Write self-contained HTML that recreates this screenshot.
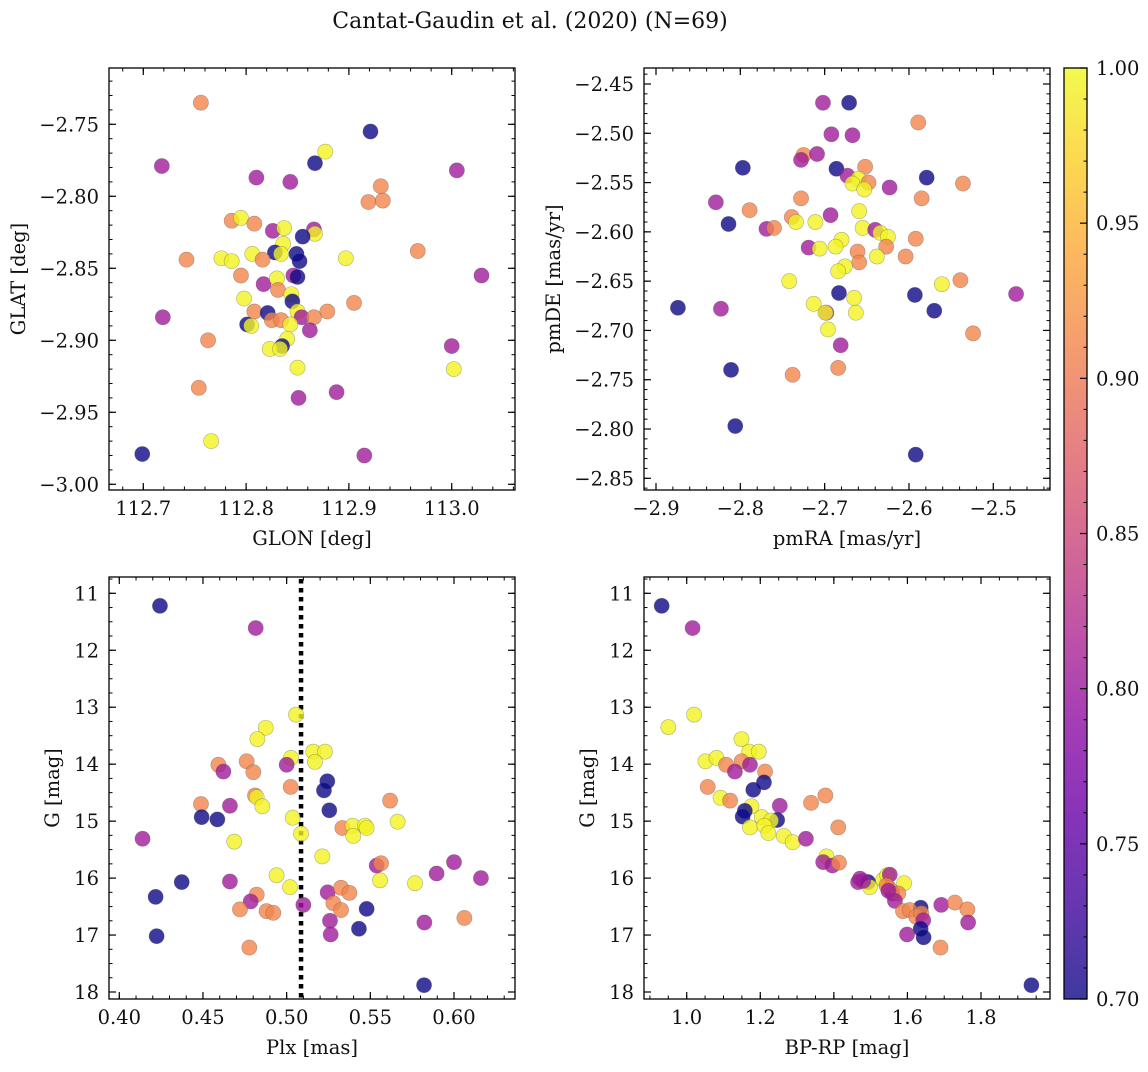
<!DOCTYPE html>
<html><head><meta charset="utf-8">
<style>
html,body{margin:0;padding:0;background:#fff;}
svg text{font-family:"DejaVu Serif","Liberation Serif",serif;fill:#111;}
</style></head>
<body>
<svg id="fig" width="1148" height="1067" viewBox="0 0 1148 1067" xmlns="http://www.w3.org/2000/svg">
<defs>
<linearGradient id="cbgrad" x1="0" y1="1" x2="0" y2="0">
<stop offset="0" stop-color="#0d0887"/><stop offset="0.1" stop-color="#41049d"/><stop offset="0.2" stop-color="#6a00a8"/><stop offset="0.3" stop-color="#8f0da4"/><stop offset="0.4" stop-color="#b12a90"/><stop offset="0.5" stop-color="#cc4778"/><stop offset="0.6" stop-color="#e16462"/><stop offset="0.7" stop-color="#f2844b"/><stop offset="0.8" stop-color="#fca636"/><stop offset="0.9" stop-color="#fcce25"/><stop offset="1" stop-color="#f0f921"/>
</linearGradient>
</defs>
<text x="530" y="28" font-size="22" text-anchor="middle">Cantat-Gaudin et al. (2020) (N=69)</text>
<g id="plots"></g>
<g id="colorbar">
<rect x="1064" y="68" width="23" height="931" fill="url(#cbgrad)" opacity="0.8"/>
<rect x="1064" y="68" width="23" height="931" fill="none" stroke="#000" stroke-width="1.3"/>
</g>
</svg>
<script>
const B=0.70,P=0.805,O=0.91,Y=0.995;
// Panel 1: GLON / GLAT
const glon=[112.756,112.921,112.877,112.867,112.718,112.810,112.843,113.005,112.931,112.919,112.933,112.786,112.795,112.808,112.826,112.837,112.866,112.867,112.855,112.836,112.828,112.834,112.849,112.852,112.806,112.816,112.742,112.776,112.786,112.897,112.967,112.795,112.846,112.850,113.029,112.817,112.830,112.831,112.798,112.844,112.845,112.905,112.808,112.821,112.850,112.854,112.879,112.825,112.834,112.866,112.801,112.805,112.843,112.719,112.862,112.840,112.835,112.823,112.833,112.763,113.000,113.002,112.850,112.754,112.851,112.888,112.766,112.699,112.915];
const glat=[-2.735,-2.755,-2.769,-2.777,-2.779,-2.787,-2.790,-2.782,-2.793,-2.804,-2.803,-2.817,-2.815,-2.819,-2.824,-2.822,-2.823,-2.826,-2.828,-2.833,-2.839,-2.840,-2.840,-2.845,-2.840,-2.844,-2.844,-2.843,-2.845,-2.843,-2.838,-2.855,-2.855,-2.856,-2.855,-2.861,-2.857,-2.865,-2.871,-2.868,-2.873,-2.874,-2.880,-2.881,-2.880,-2.884,-2.880,-2.886,-2.886,-2.884,-2.889,-2.890,-2.889,-2.884,-2.893,-2.899,-2.904,-2.906,-2.906,-2.900,-2.904,-2.920,-2.919,-2.933,-2.940,-2.936,-2.970,-2.979,-2.980];
const prob1=[O,B,Y,B,P,P,P,P,O,O,O,O,Y,O,P,Y,P,Y,B,Y,B,Y,B,B,Y,O,O,Y,Y,Y,O,O,P,B,P,P,Y,O,Y,Y,B,O,O,B,Y,P,O,O,O,O,B,Y,Y,P,P,Y,B,Y,Y,O,P,Y,Y,O,P,P,Y,B,P];
// Panel 2: pmRA / pmDE
const pmra=[-2.702,-2.671,-2.589,-2.692,-2.667,-2.725,-2.728,-2.709,-2.797,-2.686,-2.652,-2.673,-2.660,-2.648,-2.667,-2.653,-2.623,-2.579,-2.536,-2.585,-2.728,-2.829,-2.789,-2.814,-2.693,-2.659,-2.739,-2.734,-2.711,-2.769,-2.760,-2.655,-2.640,-2.634,-2.625,-2.627,-2.592,-2.680,-2.687,-2.719,-2.706,-2.661,-2.659,-2.638,-2.604,-2.676,-2.684,-2.742,-2.561,-2.539,-2.683,-2.593,-2.473,-2.874,-2.823,-2.665,-2.570,-2.713,-2.698,-2.699,-2.663,-2.696,-2.524,-2.681,-2.684,-2.738,-2.811,-2.806,-2.592];
const pmde=[-2.469,-2.469,-2.489,-2.501,-2.502,-2.522,-2.527,-2.521,-2.535,-2.536,-2.534,-2.543,-2.546,-2.550,-2.551,-2.557,-2.555,-2.545,-2.551,-2.566,-2.566,-2.570,-2.578,-2.592,-2.583,-2.579,-2.585,-2.590,-2.590,-2.597,-2.596,-2.596,-2.598,-2.601,-2.605,-2.615,-2.607,-2.608,-2.615,-2.616,-2.617,-2.620,-2.631,-2.625,-2.625,-2.635,-2.640,-2.650,-2.653,-2.649,-2.662,-2.664,-2.663,-2.677,-2.678,-2.667,-2.680,-2.673,-2.682,-2.682,-2.682,-2.699,-2.703,-2.715,-2.738,-2.745,-2.740,-2.797,-2.826];
const prob2=[P,B,O,P,P,O,P,P,B,B,O,P,Y,O,Y,Y,P,B,O,O,O,P,O,B,P,Y,O,Y,Y,P,O,Y,P,Y,Y,O,O,Y,Y,P,Y,O,O,Y,O,Y,Y,Y,Y,O,B,B,P,B,P,Y,B,Y,P,Y,Y,Y,O,P,O,O,B,B,B];
// Panel 3: Plx / G
const plx=[0.4243,0.4815,0.5056,0.4875,0.4825,0.5159,0.5229,0.5169,0.5026,0.5000,0.4592,0.4622,0.4761,0.4801,0.5024,0.5243,0.5223,0.4811,0.4821,0.4855,0.4488,0.4661,0.5618,0.5255,0.4492,0.4586,0.5036,0.5663,0.5333,0.5394,0.5468,0.5478,0.5398,0.5086,0.4139,0.4687,0.5213,0.5538,0.5564,0.6000,0.5896,0.4940,0.5558,0.5767,0.6161,0.4373,0.4661,0.5020,0.4217,0.4821,0.4785,0.5245,0.5325,0.5375,0.5279,0.5100,0.5325,0.4721,0.4880,0.4920,0.5478,0.5259,0.5823,0.6062,0.5432,0.5263,0.4223,0.4777,0.5821];
const gmag3=[11.22,11.61,13.13,13.36,13.56,13.78,13.78,13.96,13.89,14.01,14.01,14.13,13.95,14.14,14.40,14.30,14.46,14.55,14.58,14.74,14.70,14.73,14.64,14.81,14.93,14.97,14.94,15.01,15.12,15.08,15.08,15.12,15.26,15.22,15.31,15.36,15.62,15.78,15.74,15.72,15.92,15.95,16.04,16.09,16.00,16.07,16.06,16.16,16.33,16.29,16.41,16.25,16.17,16.26,16.44,16.47,16.56,16.55,16.58,16.61,16.54,16.75,16.78,16.70,16.89,16.99,17.02,17.22,17.88];
const prob3=[B,P,Y,Y,Y,Y,Y,Y,Y,P,O,P,O,O,O,B,B,O,Y,Y,O,P,O,B,B,B,Y,Y,O,Y,Y,Y,Y,Y,P,Y,Y,P,O,P,P,Y,Y,Y,P,B,P,Y,B,O,P,P,O,O,O,P,O,O,O,O,B,P,P,O,B,P,B,O,B];
const plxCut=[0.5086];
// Panel 4: BP-RP / G
const bprp=[0.932,1.016,1.020,0.950,1.149,1.170,1.196,1.051,1.081,1.107,1.149,1.172,1.131,1.213,1.210,1.181,1.057,1.092,1.118,1.377,1.338,1.253,1.176,1.158,1.152,1.204,1.246,1.229,1.412,1.172,1.211,1.222,1.264,1.288,1.324,1.380,1.371,1.396,1.414,1.471,1.466,1.493,1.498,1.534,1.545,1.552,1.591,1.552,1.559,1.575,1.566,1.692,1.729,1.763,1.636,1.588,1.606,1.624,1.638,1.643,1.765,1.636,1.599,1.644,1.690,1.937,1.543,1.548,1.480];
const gmag4=[11.22,11.61,13.13,13.35,13.56,13.78,13.78,13.95,13.89,14.01,13.95,14.01,14.13,14.13,14.32,14.45,14.40,14.59,14.64,14.55,14.68,14.73,14.74,14.82,14.92,14.93,14.98,14.99,15.11,15.11,15.08,15.21,15.26,15.37,15.31,15.62,15.72,15.78,15.73,16.01,16.07,16.07,16.16,16.03,15.95,15.94,16.09,16.19,16.27,16.27,16.40,16.47,16.43,16.55,16.52,16.58,16.56,16.68,16.62,16.74,16.78,16.89,16.99,17.04,17.22,17.88,16.13,16.22,16.05];
const prob4=[B,P,Y,Y,Y,Y,Y,Y,Y,O,O,P,P,O,B,B,O,Y,O,O,O,P,Y,B,B,Y,B,Y,O,Y,Y,Y,Y,Y,P,Y,P,P,O,P,P,B,Y,Y,Y,P,Y,O,P,O,P,P,O,O,B,O,O,O,O,P,P,B,P,B,O,B,O,P,P];
// tick labels
const xt1=[112.7,112.8,112.9,113.0], yt1=[-2.75,-2.80,-2.85,-2.90,-2.95,-3.00];
const xt2=[-2.9,-2.8,-2.7,-2.6,-2.5], yt2=[-2.45,-2.50,-2.55,-2.60,-2.65,-2.70,-2.75,-2.80,-2.85];
const xt3=[0.40,0.45,0.50,0.55,0.60], yt34=[11,12,13,14,15,16,17,18];
const xt4=[1.0,1.2,1.4,1.6,1.8];
const cbt=[0.70,0.75,0.80,0.85,0.90,0.95,1.00];

const NS="http://www.w3.org/2000/svg";
const stops=[[13,8,135],[65,4,157],[106,0,168],[143,13,164],[177,42,144],[204,71,120],[225,100,98],[242,132,75],[252,166,54],[252,206,37],[240,249,33]];
function plasma(t){t=Math.max(0,Math.min(1,t));const f=t*10,i=Math.min(9,Math.floor(f)),r=f-i;const a=stops[i],b=stops[i+1];return 'rgb('+a.map((v,k)=>Math.round(v+(b[k]-v)*r)).join(',')+')';}
function colorOf(p){return plasma((p-0.70)/0.30);}
function lin(v0,p0,v1,p1){const f=v=>p0+(v-v0)*(p1-p0)/(v1-v0);return f;}
function mk(tag,at,parent){const e=document.createElementNS(NS,tag);for(const k in at)e.setAttribute(k,at[k]);parent.appendChild(e);return e;}
const root=document.getElementById('plots');
function fmt(v,d){return (v<0?'\u2212':'')+Math.abs(v).toFixed(d);}

function panel(o){
  const g=mk('g',{},root);
  
  
  const sx=lin(o.xa[0],o.xa[1],o.xa[2],o.xa[3]), sy=lin(o.ya[0],o.ya[1],o.ya[2],o.ya[3]);
  const L=o.box[0],R=o.box[1],T=o.box[2],Bt=o.box[3];
  const inv=p=>o.xa[0]+(p-o.xa[1])*(o.xa[2]-o.xa[0])/(o.xa[3]-o.xa[1]);
  const invy=p=>o.ya[0]+(p-o.ya[1])*(o.ya[2]-o.ya[0])/(o.ya[3]-o.ya[1]);
  const x0=Math.min(inv(L),inv(R)), x1=Math.max(inv(L),inv(R));
  for(let k=Math.ceil(x0/o.xm-1e-6);k*o.xm<=x1+1e-9;k++){const px=sx(k*o.xm);if(px<L||px>R)continue;
    mk('line',{x1:px,x2:px,y1:Bt,y2:Bt-3.5,stroke:'#000','stroke-width':1},g);mk('line',{x1:px,x2:px,y1:T,y2:T+3.5,stroke:'#000','stroke-width':1},g);}
  const y0=Math.min(invy(T),invy(Bt)), y1=Math.max(invy(T),invy(Bt));
  for(let k=Math.ceil(y0/o.ym-1e-6);k*o.ym<=y1+1e-9;k++){const py=sy(k*o.ym);if(py<T||py>Bt)continue;
    mk('line',{x1:L,x2:L+3.5,y1:py,y2:py,stroke:'#000','stroke-width':1},g);mk('line',{x1:R,x2:R-3.5,y1:py,y2:py,stroke:'#000','stroke-width':1},g);}
  o.xt.forEach(v=>{const px=sx(v);
    mk('line',{x1:px,x2:px,y1:Bt,y2:Bt-7,stroke:'#000','stroke-width':1.2},g);mk('line',{x1:px,x2:px,y1:T,y2:T+7,stroke:'#000','stroke-width':1.2},g);
    const t=mk('text',{x:px,y:Bt+25,'font-size':19.5,'text-anchor':'middle'},g);t.textContent=fmt(v,o.xd);
    
    });
  o.yt.forEach(v=>{const py=sy(v);
    mk('line',{x1:L,x2:L+7,y1:py,y2:py,stroke:'#000','stroke-width':1.2},g);mk('line',{x1:R,x2:R-7,y1:py,y2:py,stroke:'#000','stroke-width':1.2},g);
    const t=mk('text',{x:L-10,y:py+7,'font-size':19.5,'text-anchor':'end'},g);t.textContent=fmt(v,o.yd);
    
    });
  if(o.vline){const px=sx(o.vline);const l=mk('line',{x1:px,x2:px,y1:T+2,y2:Bt,stroke:'#000','stroke-width':4.5,'stroke-dasharray':'4.5 4.5'},g);
    
    }
  for(let i=0;i<o.x.length;i++){
    const c=mk('circle',{cx:sx(o.x[i]),cy:sy(o.y[i]),r:7.6,fill:colorOf(o.c[i]),'fill-opacity':0.8,stroke:'#555','stroke-opacity':0.45,'stroke-width':0.6},g);
    
    
  }
  mk('rect',{x:L,y:T,width:R-L,height:Bt-T,fill:'none',stroke:'#000','stroke-width':1.3},g);
  const xl=mk('text',{x:(L+R)/2,y:Bt+55,'font-size':19.5,'text-anchor':'middle'},g);xl.textContent=o.xlab;
  
  
  const yx=o.ylx,yy=(T+Bt)/2;
  const yl=mk('text',{x:yx,y:yy,'font-size':19.5,'text-anchor':'middle',transform:'rotate(-90 '+yx+' '+yy+')'},g);yl.textContent=o.ylab;
  
  
}
panel({name:'glon-glat-panel',x:glon,y:glat,c:prob1,xa:[112.7,143.3,113.0,451.7],ya:[-2.75,124.3,-3.0,484.3],box:[109,515,68,490],xt:xt1,yt:yt1,xm:0.02,ym:0.01,xd:1,yd:2,xlab:'GLON [deg]',ylab:'GLAT [deg]',ylx:25});
panel({name:'proper-motion-panel',x:pmra,y:pmde,c:prob2,xa:[-2.9,656,-2.5,993.3],ya:[-2.45,84,-2.85,478.3],box:[644,1050,68,490],xt:xt2,yt:yt2,xm:0.02,ym:0.01,xd:1,yd:2,xlab:'pmRA [mas/yr]',ylab:'pmDE [mas/yr]',ylx:560});
panel({name:'parallax-magnitude-panel',x:plx,y:gmag3,c:prob3,xa:[0.40,119.3,0.60,454],ya:[11,593.3,18,992],box:[109,515,577,999],xt:xt3,yt:yt34,xm:0.01,ym:0.25,xd:2,yd:0,xlab:'Plx [mas]',ylab:'G [mag]',ylx:59,vline:plxCut[0]});
panel({name:'cmd-panel',x:bprp,y:gmag4,c:prob4,xa:[1.0,686.7,1.8,981],ya:[11,593.3,18,992],box:[644,1050,577,999],xt:xt4,yt:yt34,xm:0.05,ym:0.25,xd:1,yd:0,xlab:'BP-RP [mag]',ylab:'G [mag]',ylx:594});
const cb=document.getElementById('colorbar');
const cy=lin(0.70,999,1.00,68);
for(let k=70;k<=100;k++){const py=cy(k/100);const major=k%5===0;
  mk('line',{x1:1087,x2:major?1080:1083.5,y1:py,y2:py,stroke:'#000','stroke-width':major?1.2:1},cb);}
cbt.forEach(v=>{const t=mk('text',{x:1096,y:cy(v)+7,'font-size':19.5},cb);t.textContent=v.toFixed(2);
  
  });
</script>
</body></html>
